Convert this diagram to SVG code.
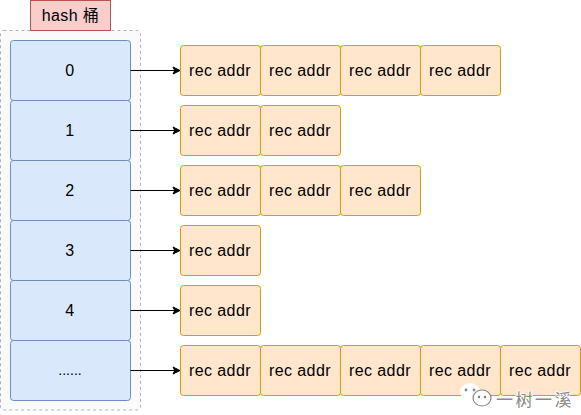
<svg xmlns="http://www.w3.org/2000/svg" width="581" height="415" viewBox="0 0 581 415">
<style>
text{font-family:"Liberation Sans","Noto Sans CJK SC",sans-serif;font-size:16px;letter-spacing:0.4px;fill:#000;text-anchor:middle}
.b{fill:#dae8fc;stroke:#6c8ebf}
.r{fill:#ffe6cc;stroke:#d79b00}
.c{fill:none;stroke:#000;stroke-width:1}
</style>
<defs>
<marker id="a" markerUnits="userSpaceOnUse" markerWidth="9" markerHeight="9" refX="8" refY="4.5" orient="auto"><path d="M1 1L8 4.5L1 8L2.75 4.5Z" fill="#000" stroke="#000"/></marker>
<rect id="rb" width="80" height="50" rx="3" class="r"/>
<rect id="bb" width="120" height="60" rx="3" class="b"/>
</defs>
<rect id="container" x="0.5" y="30.5" width="140" height="379.5" rx="3" fill="#fafafa" stroke="#b3b3b3" stroke-dasharray="3 3"/>
<g id="title"><rect x="30.5" y="0.5" width="80" height="30" fill="#f8cecc" stroke="#b85450"/><text x="70.5" y="21">hash 桶</text></g>
<g id="bucket-0"><use href="#bb" x="10.5" y="40.5"/><text x="70" y="76">0</text></g>
<g id="bucket-1"><use href="#bb" x="10.5" y="100.5"/><text x="70" y="136">1</text></g>
<g id="bucket-2"><use href="#bb" x="10.5" y="160.5"/><text x="70" y="196">2</text></g>
<g id="bucket-3"><use href="#bb" x="10.5" y="220.5"/><text x="70" y="256">3</text></g>
<g id="bucket-4"><use href="#bb" x="10.5" y="280.5"/><text x="70" y="316">4</text></g>
<g id="bucket-5"><use href="#bb" x="10.5" y="340.5"/><text x="70" y="375" style="font-size:14px;letter-spacing:0">......</text></g>
<g id="connectors">
<path class="c" marker-end="url(#a)" d="M130.5 70.5H180"/>
<path class="c" marker-end="url(#a)" d="M130.5 130.5H180"/>
<path class="c" marker-end="url(#a)" d="M130.5 190.5H180"/>
<path class="c" marker-end="url(#a)" d="M130.5 250.5H180"/>
<path class="c" marker-end="url(#a)" d="M130.5 310.5H180"/>
<path class="c" marker-end="url(#a)" d="M130.5 370.5H180"/>
</g>
<g id="rec-0-0"><use href="#rb" x="180.5" y="45.5"/><text x="220" y="76">rec addr</text></g>
<g id="rec-0-1"><use href="#rb" x="260.5" y="45.5"/><text x="300" y="76">rec addr</text></g>
<g id="rec-0-2"><use href="#rb" x="340.5" y="45.5"/><text x="380" y="76">rec addr</text></g>
<g id="rec-0-3"><use href="#rb" x="420.5" y="45.5"/><text x="460" y="76">rec addr</text></g>
<g id="rec-1-0"><use href="#rb" x="180.5" y="105.5"/><text x="220" y="136">rec addr</text></g>
<g id="rec-1-1"><use href="#rb" x="260.5" y="105.5"/><text x="300" y="136">rec addr</text></g>
<g id="rec-2-0"><use href="#rb" x="180.5" y="165.5"/><text x="220" y="196">rec addr</text></g>
<g id="rec-2-1"><use href="#rb" x="260.5" y="165.5"/><text x="300" y="196">rec addr</text></g>
<g id="rec-2-2"><use href="#rb" x="340.5" y="165.5"/><text x="380" y="196">rec addr</text></g>
<g id="rec-3-0"><use href="#rb" x="180.5" y="225.5"/><text x="220" y="256">rec addr</text></g>
<g id="rec-4-0"><use href="#rb" x="180.5" y="285.5"/><text x="220" y="316">rec addr</text></g>
<g id="rec-5-0"><use href="#rb" x="180.5" y="345.5"/><text x="220" y="376">rec addr</text></g>
<g id="rec-5-1"><use href="#rb" x="260.5" y="345.5"/><text x="300" y="376">rec addr</text></g>
<g id="rec-5-2"><use href="#rb" x="340.5" y="345.5"/><text x="380" y="376">rec addr</text></g>
<g id="rec-5-3"><use href="#rb" x="420.5" y="345.5"/><text x="460" y="376">rec addr</text></g>
<g id="rec-5-4"><use href="#rb" x="500.5" y="345.5"/><text x="540" y="376">rec addr</text></g>
<g id="watermark">
<ellipse cx="470" cy="392" rx="10" ry="9" fill="#fff"/>
<ellipse cx="482" cy="398" rx="9" ry="8" fill="#fff" stroke="#888" stroke-width="1.2"/>
<circle cx="466" cy="390" r="1.4" fill="#888"/><circle cx="474" cy="390" r="1.4" fill="#888"/>
<circle cx="479" cy="397" r="1.2" fill="#777"/><circle cx="485" cy="397" r="1.2" fill="#777"/>
<text x="535" y="406" style="font-size:17px;letter-spacing:2.5px;fill:#8a8a8a;stroke:#fff;stroke-width:1.5;paint-order:stroke">一树一溪</text>
</g>
</svg>
